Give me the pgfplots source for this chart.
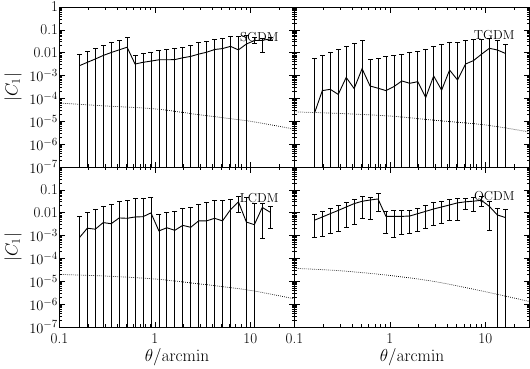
\documentclass[border=0pt]{standalone}
\usepackage{pgfplots}
\pgfplotsset{compat=1.18}
\pgfplotsset{
    scale only axis, width=235pt, height=160pt,
    xmin=0.1, xmax=29, ymin=1e-7, ymax=1,
    xtick={0.1,1,10},
    minor xtick={0.2,0.3,0.4,0.5,0.6,0.7,0.8,0.9,2,3,4,5,6,7,8,9,20},
    ytick={1e-7,1e-6,1e-5,1e-4,1e-3,0.01,0.1,1},
    minor ytick={2e-7,3e-7,4e-7,5e-7,6e-7,7e-7,8e-7,9e-7,
                 2e-6,3e-6,4e-6,5e-6,6e-6,7e-6,8e-6,9e-6,
                 2e-5,3e-5,4e-5,5e-5,6e-5,7e-5,8e-5,9e-5,
                 2e-4,3e-4,4e-4,5e-4,6e-4,7e-4,8e-4,9e-4,
                 2e-3,3e-3,4e-3,5e-3,6e-3,7e-3,8e-3,9e-3,
                 0.02,0.03,0.04,0.05,0.06,0.07,0.08,0.09,
                 0.2,0.3,0.4,0.5,0.6,0.7,0.8,0.9},
    tick align=inside,
    major tick length=5.5pt, minor tick length=2.7pt,
    every tick/.style={black, line width=0.7pt},
    axis line style={line width=1pt},
    tick label style={font=\fontsize{15}{18}\selectfont},
    xticklabel style={yshift=-3pt},
    yticklabel style={xshift=2pt},
    unbounded coords=jump,
    label style={font=\LARGE},
}
\tikzset{
  myLine/.style={black, line width=0.9pt},
  myBars/.style={black, line width=0.8pt, mark=-, mark size=2.5pt, mark options={solid, line width=0.8pt}},
  myDots/.style={black, line width=0.7pt, dash pattern=on 0.7pt off 1.3pt, smooth},
  myLab/.style={font=\fontsize{13}{15}\selectfont},
}
\begin{document}
\pgfplotstableread{
x y
0.1616 2.7e-3
0.1957 3.8e-3
0.2371 5.3e-3
0.2873 7.6e-3
0.3481 0.0102
0.4217 0.0133
0.5109 0.0174
0.6190 3.2e-3
0.7499 3.8e-3
0.9085 4.3e-3
1.1007 4.9e-3
1.3335 4.9e-3
1.6156 5.0e-3
1.9573 6.0e-3
2.3714 6.9e-3
2.8730 8.7e-3
3.4807 0.0105
4.2170 0.0138
5.1090 0.0152
6.1897 0.0190
7.4989 0.0133
9.0852 0.024
11.007 0.034
13.335 0.035
16.156 0.040
}\sgdmline
\pgfplotstableread{
x v
0.1616 1e-30
0.1616 8.1e-3
nan nan
0.1957 1e-30
0.1957 0.0112
nan nan
0.2371 1e-30
0.2371 0.0147
nan nan
0.2873 1e-30
0.2873 0.0204
nan nan
0.3481 1e-30
0.3481 0.0275
nan nan
0.4217 1e-30
0.4217 0.0362
nan nan
0.5109 1e-30
0.5109 0.047
nan nan
0.6190 1e-30
0.6190 7.6e-3
nan nan
0.7499 1e-30
0.7499 8.9e-3
nan nan
0.9085 1e-30
0.9085 0.0102
nan nan
1.1007 1e-30
1.1007 0.0129
nan nan
1.3335 1e-30
1.3335 0.0137
nan nan
1.6156 1e-30
1.6156 0.0147
nan nan
1.9573 1e-30
1.9573 0.0174
nan nan
2.3714 1e-30
2.3714 0.0212
nan nan
2.8730 1e-30
2.8730 0.0275
nan nan
3.4807 1e-30
3.4807 0.0316
nan nan
4.2170 1e-30
4.2170 0.0385
nan nan
5.1090 1e-30
5.1090 0.0439
nan nan
6.1897 1e-30
6.1897 0.050
nan nan
7.4989 1e-30
7.4989 0.050
nan nan
9.0852 1e-30
9.0852 0.056
nan nan
11.007 0.025
11.007 0.048
nan nan
13.335 0.010
13.335 0.043
nan nan
16.156 0.033
16.156 0.047
}\sgdmbars
\pgfplotstableread{
x y
0.1616 2.2e-5
0.1957 2.2e-4
0.2371 2.5e-4
0.2873 1.5e-4
0.3481 8.3e-4
0.4217 2.7e-4
0.5109 2.0e-3
0.6190 3.5e-4
0.7499 2.8e-4
0.9085 2.2e-4
1.1007 3.3e-4
1.3335 5.8e-4
1.6156 4.6e-4
1.9573 5.4e-4
2.3714 1.1e-4
2.8730 9.6e-4
3.4807 2.3e-4
4.2170 1.75e-3
5.1090 6.4e-4
6.1897 3.2e-3
7.4989 4.5e-3
9.0852 8.5e-3
11.007 0.0156
13.335 0.0132
16.156 9.4e-3
}\tgdmline
\pgfplotstableread{
x v
0.1616 1e-30
0.1616 5.5e-3
nan nan
0.1957 1e-30
0.1957 7.7e-3
nan nan
0.2371 1e-30
0.2371 0.0104
nan nan
0.2873 1e-30
0.2873 0.014
nan nan
0.3481 1e-30
0.3481 0.0196
nan nan
0.4217 1e-30
0.4217 0.0258
nan nan
0.5109 1e-30
0.5109 0.0347
nan nan
0.6190 1e-30
0.6190 5.0e-3
nan nan
0.7499 1e-30
0.7499 5.9e-3
nan nan
0.9085 1e-30
0.9085 6.9e-3
nan nan
1.1007 1e-30
1.1007 7.7e-3
nan nan
1.3335 1e-30
1.3335 8.5e-3
nan nan
1.6156 1e-30
1.6156 0.010
nan nan
1.9573 1e-30
1.9573 0.0115
nan nan
2.3714 1e-30
2.3714 0.0145
nan nan
2.8730 1e-30
2.8730 0.019
nan nan
3.4807 1e-30
3.4807 0.0233
nan nan
4.2170 1e-30
4.2170 0.0285
nan nan
5.1090 1e-30
5.1090 0.028
nan nan
6.1897 1e-30
6.1897 0.035
nan nan
7.4989 1e-30
7.4989 0.0385
nan nan
9.0852 1e-30
9.0852 0.040
nan nan
11.007 1e-30
11.007 0.042
nan nan
13.335 1e-30
13.335 0.036
nan nan
16.156 1e-30
16.156 0.023
}\tgdmbars
\pgfplotstableread{
x y
0.1616 8.1e-4
0.1957 2.1e-3
0.2371 1.9e-3
0.2873 3.7e-3
0.3481 3.3e-3
0.4217 5.9e-3
0.5109 5.7e-3
0.6190 6.5e-3
0.7499 6.7e-3
0.9085 9.8e-3
1.1007 1.6e-3
1.3335 2.2e-3
1.6156 1.7e-3
1.9573 2.8e-3
2.3714 2.3e-3
2.8730 4.4e-3
3.4807 4.4e-3
4.2170 5.7e-3
5.1090 4.4e-3
6.1897 0.0136
7.4989 0.030
9.0852 3.9e-3
11.007 3.0e-3
13.335 0.017
16.156 0.0105
}\lcdmline
\pgfplotstableread{
x v
0.1616 1e-30
0.1616 6.9e-3
nan nan
0.1957 1e-30
0.1957 0.0108
nan nan
0.2371 1e-30
0.2371 0.0136
nan nan
0.2873 1e-30
0.2873 0.019
nan nan
0.3481 1e-30
0.3481 0.023
nan nan
0.4217 1e-30
0.4217 0.0316
nan nan
0.5109 1e-30
0.5109 0.035
nan nan
0.6190 1e-30
0.6190 0.041
nan nan
0.7499 1e-30
0.7499 0.0427
nan nan
0.9085 1e-30
0.9085 0.049
nan nan
1.1007 1e-30
1.1007 8.3e-3
nan nan
1.3335 1e-30
1.3335 0.010
nan nan
1.6156 1e-30
1.6156 0.0115
nan nan
1.9573 1e-30
1.9573 0.015
nan nan
2.3714 1e-30
2.3714 0.0178
nan nan
2.8730 1e-30
2.8730 0.023
nan nan
3.4807 1e-30
3.4807 0.027
nan nan
4.2170 1e-30
4.2170 0.034
nan nan
5.1090 1e-30
5.1090 0.035
nan nan
6.1897 1e-30
6.1897 0.037
nan nan
7.4989 0.010
7.4989 0.052
nan nan
9.0852 1e-30
9.0852 0.045
nan nan
11.007 1e-30
11.007 0.026
nan nan
13.335 7.5e-4
13.335 0.026
nan nan
16.156 2.1e-3
16.156 0.019
}\lcdmbars
\pgfplotstableread{
x y
0.1616 4.7e-3
0.1957 6.5e-3
0.2371 9.1e-3
0.2873 0.0126
0.3481 0.0178
0.4217 0.025
0.5109 0.0316
0.6190 0.036
0.7499 0.040
0.9085 6.9e-3
1.1007 6.9e-3
1.3335 6.9e-3
1.6156 7.2e-3
1.9573 9.1e-3
2.3714 0.0115
2.8730 0.0146
3.4807 0.0178
4.2170 0.0219
5.1090 0.027
6.1897 0.030
7.4989 0.032
9.0852 0.035
11.007 0.019
13.335 8.0e-3
16.156 6.2e-3
}\qcdmline
\pgfplotstableread{
x v
0.1616 8.4e-4
0.1616 8.3e-3
nan nan
0.1957 9.6e-4
0.1957 0.0115
nan nan
0.2371 1.2e-3
0.2371 0.0156
nan nan
0.2873 1.5e-3
0.2873 0.021
nan nan
0.3481 2.2e-3
0.3481 0.0286
nan nan
0.4217 3.1e-3
0.4217 0.039
nan nan
0.5109 5.5e-3
0.5109 0.050
nan nan
0.6190 5.3e-3
0.6190 0.047
nan nan
0.7499 0.011
0.7499 0.068
nan nan
0.9085 1.3e-3
0.9085 0.012
nan nan
1.1007 8.1e-4
1.1007 0.0126
nan nan
1.3335 1.1e-3
1.3335 0.0123
nan nan
1.6156 1.2e-3
1.6156 0.0132
nan nan
1.9573 1.5e-3
1.9573 0.0156
nan nan
2.3714 2.0e-3
2.3714 0.0218
nan nan
2.8730 2.7e-3
2.8730 0.0295
nan nan
3.4807 3.3e-3
3.4807 0.0316
nan nan
4.2170 4.7e-3
4.2170 0.037
nan nan
5.1090 4.8e-3
5.1090 0.043
nan nan
6.1897 0.014
6.1897 0.043
nan nan
7.4989 0.012
7.4989 0.045
nan nan
9.0852 0.018
9.0852 0.050
nan nan
11.007 1.7e-3
11.007 0.030
nan nan
13.335 1e-30
13.335 0.016
nan nan
16.156 1e-30
16.156 0.014
}\qcdmbars
\begin{tikzpicture}
\useasboundingbox (0,0) rectangle (530pt,368pt);
% top left: SGDM
\begin{loglogaxis}[at={(59.5pt,201pt)}, anchor=south west,
  xticklabels={},
  yticklabels={$10^{-7}$,$10^{-6}$,$10^{-5}$,$10^{-4}$,$10^{-3}$,0.01,0.1,1},
  ylabel={$|C_1|$}, ylabel style={at={(axis description cs:-0.198,0.5)}, anchor=center}]
\addplot[myLine] table[x=x,y=y] {\sgdmline};
\addplot[myBars] table[x=x,y=v] {\sgdmbars};
\addplot[myDots] coordinates {(0.1,6.3e-5)(0.3,4.7e-5)(1,3.5e-5)(3,1.9e-5)(10,1.0e-5)(29,4.5e-6)};
\node[myLab] at (rel axis cs:0.85,0.815) {SGDM};
\end{loglogaxis}
% top right: TGDM
\begin{loglogaxis}[at={(294.5pt,201pt)}, anchor=south west, xticklabels={}, yticklabels={}]
\addplot[myLine] table[x=x,y=y] {\tgdmline};
\addplot[myBars] table[x=x,y=v] {\tgdmbars};
\addplot[myDots] coordinates {(0.1,2.6e-5)(0.3,2.2e-5)(1,1.7e-5)(3,1.1e-5)(10,6.9e-6)(29,3.4e-6)};
\node[myLab] at (rel axis cs:0.85,0.825) {TGDM};
\end{loglogaxis}
% bottom left: LCDM
\begin{loglogaxis}[at={(59.5pt,41pt)}, anchor=south west,
  yticklabels={$10^{-7}$,$10^{-6}$,$10^{-5}$,$10^{-4}$,$10^{-3}$,0.01,0.1,{}},
  ylabel={$|C_1|$}, ylabel style={at={(axis description cs:-0.198,0.5)}, anchor=center},
  xticklabels={0.1,1,10}, xlabel={$\theta/\mathrm{arcmin}$},
  xlabel style={at={(axis description cs:0.5,-0.19)}, anchor=center}]
\addplot[myLine] table[x=x,y=y] {\lcdmline};
\addplot[myBars] table[x=x,y=v] {\lcdmbars};
\addplot[myDots] coordinates {(0.1,2.0e-5)(0.3,1.7e-5)(1,1.26e-5)(3,7.6e-6)(10,4.0e-6)(29,1.7e-6)};
\node[myLab] at (rel axis cs:0.85,0.806) {LCDM};
\end{loglogaxis}
% bottom right: QCDM
\begin{loglogaxis}[at={(294.5pt,41pt)}, anchor=south west, yticklabels={},
  xticklabels={0.1,1,10}, xlabel={$\theta/\mathrm{arcmin}$},
  xlabel style={at={(axis description cs:0.5,-0.19)}, anchor=center}]
\addplot[myLine] table[x=x,y=y] {\qcdmline};
\addplot[myBars] table[x=x,y=v] {\qcdmbars};
\addplot[myDots] coordinates {(0.1,3.7e-5)(0.3,2.9e-5)(1,1.8e-5)(3,9.6e-6)(10,3.5e-6)(29,1.3e-6)};
\node[myLab] at (rel axis cs:0.85,0.81) {QCDM};
\end{loglogaxis}
\end{tikzpicture}
\end{document}
